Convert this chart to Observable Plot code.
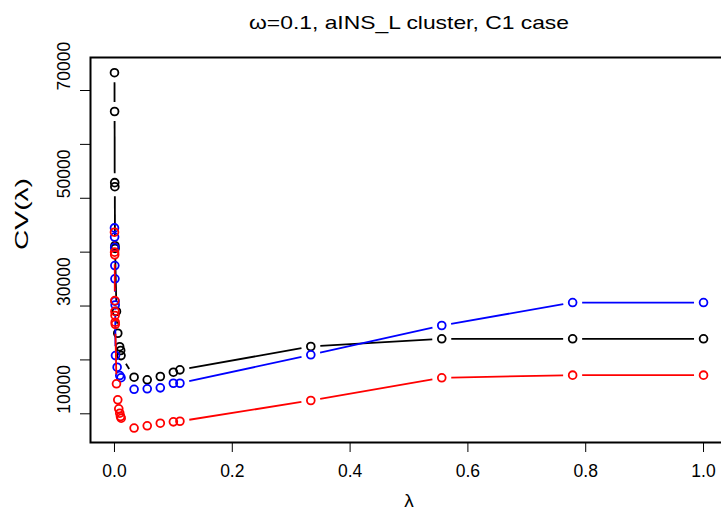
<!DOCTYPE html>
<html><head><meta charset="utf-8">
<script src="https://cdn.jsdelivr.net/npm/d3@7"></script>
<script src="https://cdn.jsdelivr.net/npm/@observablehq/plot@0.6"></script>
<style>html,body{margin:0;padding:0;background:#fff;overflow:hidden}</style>
</head><body><div id="chart"></div>
<script>
const title = "ω=0.1, aINS_L cluster, C1 case";
const xLabel = "λ";
const yLabel = "CV(λ)";
const xTicks = [0, 0.2, 0.4, 0.6, 0.8, 1.0];
const yTicks = [10000, 20000, 30000, 40000, 50000, 60000, 70000];
const yTickLabels = [10000, 30000, 50000, 70000];

const lambdaBlack = [0, 0.0002, 0.0004, 0.0006, 0.0008, 0.001, 0.0034, 0.0056, 0.0088, 0.0105, 0.0111, 0.0333, 0.0556, 0.0778, 0.1, 0.1111, 0.3333, 0.5556, 0.7778, 1];
const cvBlack     = [73300, 66100, 52900, 52150, 41200, 40700, 29000, 24950, 22450, 21750, 20800, 16790, 16300, 16920, 17720, 18160, 22490, 23920, 23920, 23920];

const lambdaBlue = [0, 0.0002, 0.0004, 0.0006, 0.0008, 0.001, 0.0012, 0.0017, 0.0045, 0.009, 0.0111, 0.0333, 0.0556, 0.0778, 0.1, 0.1111, 0.3333, 0.5556, 0.7778, 1];
const cvBlue     = [44500, 42800, 40900, 37500, 35050, 30900, 30200, 20800, 18650, 17100, 16700, 14550, 14640, 14820, 15670, 15670, 20950, 26390, 30650, 30650];

const lambdaRed = [0, 0.0002, 0.0004, 0.0006, 0.0008, 0.001, 0.0012, 0.0014, 0.0034, 0.0056, 0.0073, 0.009, 0.0102, 0.0114, 0.0333, 0.0556, 0.0778, 0.1, 0.1111, 0.3333, 0.5556, 0.7778, 1];
const cvRed     = [43700, 40000, 39500, 31000, 29000, 28250, 27000, 26600, 15570, 12590, 10920, 10110, 9500, 9180, 7360, 7770, 8250, 8510, 8620, 12470, 16680, 17170, 17170];

const seriesLambda = [lambdaBlack, lambdaBlue, lambdaRed];
const seriesCV = [cvBlack, cvBlue, cvRed];
const seriesColors = ["#000000", "#0000ff", "#ff0000"];

const FONT = "'Liberation Sans', Arial, Helvetica, sans-serif";
const scaleOpts = {
  width: 721, height: 517,
  marginLeft: 90, marginRight: -6, marginTop: 57, marginBottom: 75,
  x: {domain: [-0.0407, 1.0407]},
  y: {domain: [4673, 76125]},
  style: {fontFamily: FONT, background: "#fff", color: "#000", overflow: "hidden"}
};

const base = Plot.plot({...scaleOpts, marks: [Plot.frame()]});
const sx = base.scale("x"), sy = base.scale("y");
const GAP = 9.5;
function gapSegments(lams, cvs) {
  const segs = [];
  for (let i = 0; i < lams.length - 1; i++) {
    const x1 = sx.apply(lams[i]), y1 = sy.apply(cvs[i]);
    const x2 = sx.apply(lams[i + 1]), y2 = sy.apply(cvs[i + 1]);
    const dx = x2 - x1, dy = y2 - y1, d = Math.hypot(dx, dy);
    if (d <= 2 * GAP) continue;
    const f = GAP / d;
    segs.push({
      x1: sx.invert(x1 + f * dx), y1: sy.invert(y1 + f * dy),
      x2: sx.invert(x2 - f * dx), y2: sy.invert(y2 - f * dy)
    });
  }
  return segs;
}

const seriesMarks = [];
seriesLambda.forEach((lams, k) => {
  const cvs = seriesCV[k];
  const pts = lams.map((l, i) => ({lambda: l, cv: cvs[i]}));
  seriesMarks.push(Plot.link(gapSegments(lams, cvs), {x1: "x1", y1: "y1", x2: "x2", y2: "y2", stroke: seriesColors[k], strokeWidth: 1.8}));
  seriesMarks.push(Plot.dot(pts, {x: "lambda", y: "cv", r: 3.9, stroke: seriesColors[k], strokeWidth: 1.8, fill: "none"}));
});

const chart = Plot.plot({
  ...scaleOpts,
  marks: [
    Plot.axisX({ticks: xTicks, tickFormat: d3.format(".1f"), tickSize: 10, tickPadding: 12, fontSize: 17.5, label: null, stroke: "#000", strokeWidth: 1}),
    Plot.axisY({ticks: yTicks, tickFormat: () => "", tickSize: 10, label: null, strokeWidth: 1}),
    Plot.text(yTickLabels, {y: d => d, text: d => String(d), frameAnchor: "left", dx: -26, rotate: -90, fontSize: 17.5}),
    ...seriesMarks,
    Plot.frame({stroke: "#000", strokeWidth: 2}),
    Plot.text([title], {text: d => d, frameAnchor: "top", dy: -42, fontSize: 18.5}),
    Plot.text([xLabel], {text: d => d, frameAnchor: "bottom", dy: 64, fontSize: 19}),
    Plot.text([yLabel], {text: d => d, frameAnchor: "left", dx: -68, rotate: -90, fontSize: 18})
  ]
});
// stretch the title and y label glyphs to the reference widths
d3.select(chart).selectAll("text").each(function () {
  const t = this.textContent;
  if (t === title) d3.select(this).attr("textLength", 320).attr("lengthAdjust", "spacingAndGlyphs");
  if (t === yLabel) d3.select(this).attr("textLength", 72).attr("lengthAdjust", "spacingAndGlyphs");
});
document.getElementById("chart").appendChild(chart);
</script>
</body></html>
